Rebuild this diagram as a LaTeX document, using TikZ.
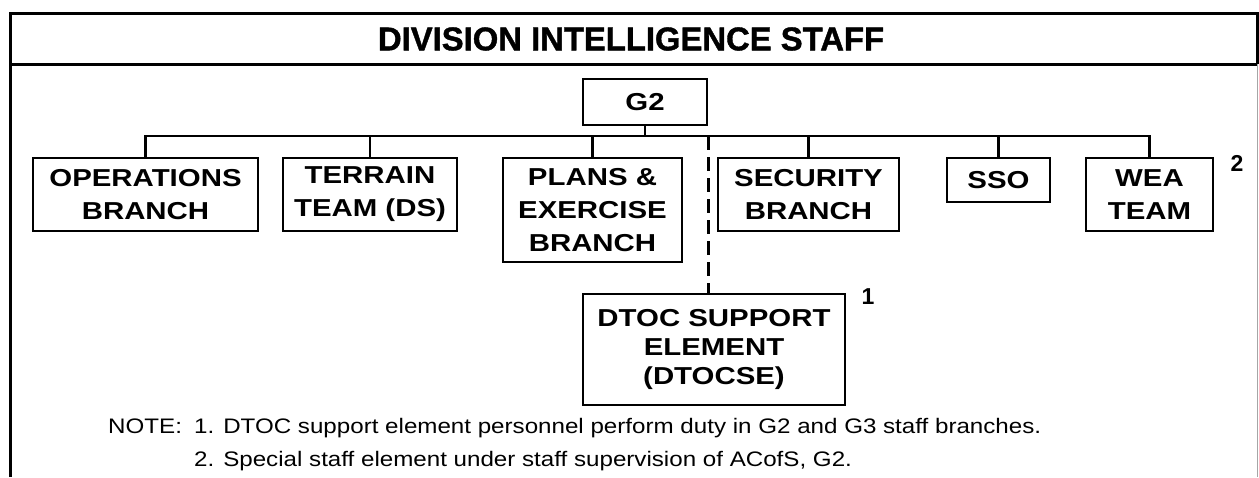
\documentclass[tikz,border=0pt]{standalone}
\usepackage{fontspec}
\setmainfont{Liberation Sans}
\newfontface\boxfont{Liberation Sans Bold}[FakeStretch=1.2]
\newfontface\headfont{Liberation Sans Bold}
\newfontface\titlefont{Liberation Sans Bold}[FakeBold=1.2]
\newfontface\notefont{Liberation Sans}[FakeStretch=1.15]
\begin{document}
\begin{tikzpicture}[x=1pt,y=-1pt,
  unit/.style={draw, line width=2.7pt, align=center, inner sep=0pt,
    font=\boxfont\fontsize{24.5}{33}\selectfont},
  link/.style={line width=2.4pt, line join=miter},
  borderline/.style={line width=3pt, line join=miter},
  fnmark/.style={font=\headfont\fontsize{23}{26}\selectfont, inner sep=0pt},
  notetext/.style={font=\notefont\fontsize{21}{24}\selectfont, inner sep=0pt, anchor=base west}]
\useasboundingbox (0,0) rectangle (1259,477);

% outer frame and title band
\draw[borderline] (10,477) -- (10,13) -- (1257,13) -- (1257,64);
\draw[borderline] (10,64) -- (1257,64);
\draw[gray!70, line width=1pt] (1257,64) -- (1257,477);
\node[inner sep=0pt] (title) at (631,39)
  {\resizebox{506pt}{23pt}{\titlefont DIVISION INTELLIGENCE STAFF}};

% organisation boxes
\node[unit, minimum width=124pt, minimum height=46pt] (g2) at (645,102) {G2};
\node[unit, minimum width=225pt, minimum height=73pt] (ops) at (145.5,194.5) {OPERATIONS\\BRANCH};
\node[unit, minimum width=174pt, minimum height=73pt] (ter) at (370,194.5) {TERRAIN\\TEAM (DS)};
\node[unit, minimum width=179pt, minimum height=104pt] (plans) at (592.5,210) {PLANS \&\\EXERCISE\\BRANCH};
\node[unit, minimum width=181pt, minimum height=73pt] (sec) at (808.5,194.5) {SECURITY\\BRANCH};
\node[unit, minimum width=103pt, minimum height=44pt] (sso) at (998.5,180) {SSO};
\node[unit, minimum width=127pt, minimum height=73pt] (wea) at (1149.5,194.5) {WEA\\TEAM};
\node[unit, minimum width=262pt, minimum height=111pt,
  font=\boxfont\fontsize{24.5}{29}\selectfont] (dtoc) at (714,349.5)
  {DTOC SUPPORT\\ELEMENT\\(DTOCSE)};

% footnote marks
\node[fnmark] (fn1) at (868,297) {1};
\node[fnmark] (fn2) at (1237,163) {2};

% connectors
\coordinate (bus) at (0,136);
\draw[link] (g2.south) -- (g2.south |- bus);
\draw[link] (ops.north) -- (ops.north |- bus) -- (wea.north |- bus) -- (wea.north);
\draw[link] (ter.north) -- (ter.north |- bus);
\draw[link] (plans.north) -- (plans.north |- bus);
\draw[link] (sec.north) -- (sec.north |- bus);
\draw[link] (sso.north) -- (sso.north |- bus);
\draw[link, dash pattern=on 14pt off 7pt] (g2.south east |- bus) -- (g2.south east |- dtoc.north);

% notes
\node[notetext] (notehead) at (108,433.5) {NOTE:};
\node[notetext] (note1) at (194,433.5)
  {1. DTOC support element personnel perform duty in G2 and G3 staff branches.};
\node[notetext] (note2) at (194,466.5)
  {2. Special staff element under staff supervision of ACofS, G2.};
\end{tikzpicture}
\end{document}
